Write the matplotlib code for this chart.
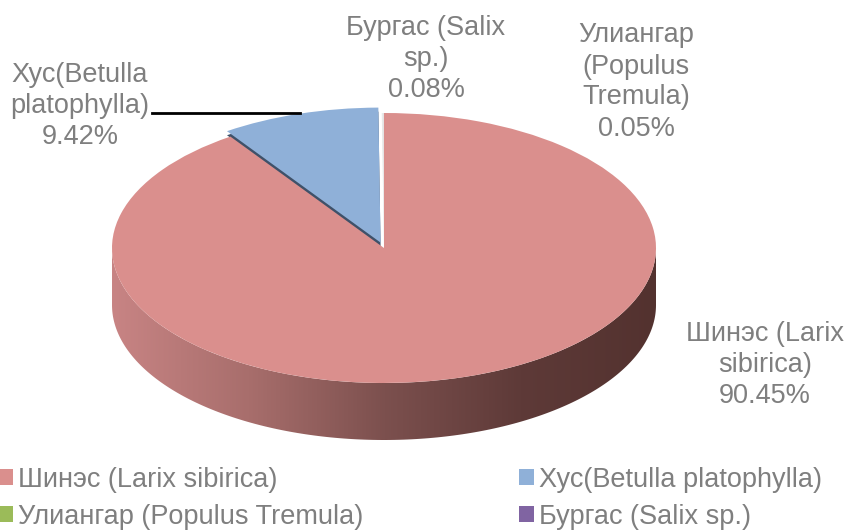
import numpy as np
from matplotlib import pyplot as plt
from matplotlib.colors import LinearSegmentedColormap

plt.rcParams["font.family"] = ["Liberation Sans", "DejaVu Sans"]

species = ["Шинэс (Larix sibirica)", "Хус(Betulla platophylla)",
           "Улиангар (Populus Tremula)", "Бургас (Salix sp.)"]
shares = [90.45, 9.42, 0.05, 0.08]
colors = ["#DA8F8D", "#8FB0D8", "#9BBB59", "#8064A2"]
slice_labels = ["Шинэс (Larix\nsibirica)\n90.45%", "Хус(Betulla\nplatophylla)\n9.42%",
                "Улиангар\n(Populus\nTremula)\n0.05%", "Бургас (Salix\nsp.)\n0.08%"]
label_centres = [(765, 365), (80, 106), (636, 82), (426, 59)]

WIDTH, HEIGHT = 846, 530
CX, CY, RX, RY = 384, 248, 272, 135
DEPTH = 57 / RY
GREY = "#7F7F7F"

fig = plt.figure(figsize=(WIDTH / 100, HEIGHT / 100), dpi=100)
ax = fig.add_axes([0, 0, 1, 1])

# the unit circle of the pie becomes the tilted ellipse
xlim = (-CX / RX, (WIDTH - CX) / RX)
ylim = ((CY - HEIGHT) / RY, CY / RY)

# rim of the disc, shaded from left to right
theta = np.linspace(np.pi, 2 * np.pi, 200)
rim_x = np.concatenate([np.cos(theta), np.cos(theta[::-1])])
rim_y = np.concatenate([np.sin(theta), np.sin(theta[::-1]) - DEPTH])
rim = plt.Polygon(np.column_stack([rim_x, rim_y]), closed=True, fc="none", ec="none")
ax.add_patch(rim)
shade = LinearSegmentedColormap.from_list(
    "rim", ["#C88484", "#A86E6C", "#7C504E", "#5E3A38", "#53322F"])
img = ax.imshow(np.linspace(0, 1, 256)[None, :], cmap=shade, extent=(-1, 1, -1 - DEPTH, 0),
                aspect="auto", zorder=1)
img.set_clip_path(rim)

# thin dark edge under the pulled out slice
explode = [0, 0.042, 0, 0]
ax.pie(shares, colors=["none", "#3F5169", "none", "none"], startangle=90, counterclock=False,
       explode=explode, center=(0, -0.03), wedgeprops={"zorder": 2, "linewidth": 0})
wedges, _ = ax.pie(shares, colors=colors, startangle=90, counterclock=False,
                   explode=explode, wedgeprops={"zorder": 3, "linewidth": 0})

ax.set_aspect("auto")
ax.set_xlim(xlim)
ax.set_ylim(ylim)
ax.axis("off")

# leader line of the birch label
ax.plot([(152 - CX) / RX, (300 - CX) / RX], [(CY - 113) / RY] * 2, color="black", lw=2, zorder=4)

for text, (px, py) in zip(slice_labels, label_centres):
    fig.text(px / WIDTH, 1 - py / HEIGHT, text, color=GREY, fontsize=19.5,
             ha="center", va="center", linespacing=1.25)

order = [0, 2, 1, 3]
fig.legend([wedges[i] for i in order], [species[i] for i in order], ncol=2, frameon=False,
           loc="lower left", bbox_to_anchor=(-0.009, -0.01), fontsize=19.5, labelcolor=GREY,
           handlelength=0.55, handleheight=0.55, handletextpad=0.2, columnspacing=5.75,
           labelspacing=0.42, borderpad=0.2, borderaxespad=0)

# the two tiny slices read as a pale sliver in the disc, colours stay in the legend
for w in wedges[2:]:
    w.set_facecolor("#E4E4E4")

fig.savefig("out.png", dpi=100)
